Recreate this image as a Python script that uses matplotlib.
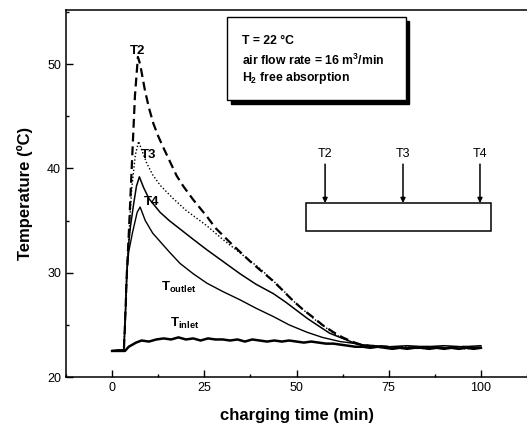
import matplotlib
matplotlib.use("Agg")
from matplotlib import pyplot as plt
from matplotlib import rcParams
from matplotlib.patches import Rectangle
from matplotlib.ticker import MultipleLocator

rcParams["font.family"] = ["Liberation Sans", "DejaVu Sans"]
rcParams["mathtext.fontset"] = "custom"
rcParams["mathtext.rm"] = "Liberation Sans"
rcParams["mathtext.bf"] = "Liberation Sans:bold"

# charging time (min) and temperature (C)
t2_t = [0, 3.2, 3.6, 4.0, 4.5, 5.0, 5.5, 6.2, 7.0, 7.6, 8.9, 10.0, 11.2, 12.5,
        13.9, 15.5, 17.5, 19.3, 22, 25.7, 28, 32, 35, 37.4, 40, 43.7, 46, 49.1,
        52, 54.6, 57, 60, 62.5, 65, 67.5, 70, 75, 80, 85, 90, 95, 100]
t2_y = [22.5, 22.6, 26.0, 30.0, 33.5, 37.5, 41.5, 47.0, 50.7, 50.0, 47.5, 45.8,
        44.3, 43.1, 42.0, 40.8, 39.3, 38.3, 37.0, 35.4, 34.3, 32.9, 31.9, 31.1,
        30.3, 29.2, 28.4, 27.3, 26.4, 25.7, 25.0, 24.3, 23.8, 23.4, 23.1, 23.0,
        22.9, 22.8, 22.9, 22.8, 22.9, 22.8]

t3_t = [0, 3.2, 3.6, 4.0, 4.5, 5.3, 6.3, 7.2, 8.0, 9.4, 11, 13, 16.6, 20, 25.7,
        30, 34.7, 40.1, 45, 50, 55, 60, 62.5, 65, 67.5, 70, 75, 80, 85, 90, 95, 100]
t3_y = [22.5, 22.6, 26.0, 30.0, 33.3, 38.0, 41.3, 42.6, 41.8, 40.5, 39.4, 38.4,
        37.1, 36.0, 34.5, 33.2, 31.9, 30.4, 28.8, 27.0, 25.5, 24.2, 23.7, 23.3,
        23.1, 22.9, 22.8, 22.9, 22.7, 22.8, 22.7, 22.8]

t4_t = [0, 3.2, 3.6, 4.0, 4.5, 5.0, 5.8, 6.6, 7.4, 8.5, 10, 13, 15.5, 18.4, 22,
        25.7, 30, 34.7, 39, 43.7, 47, 50, 53, 56.4, 59, 61.8, 64, 66, 68, 70, 75,
        80, 85, 90, 95, 100]
t4_y = [22.5, 22.6, 26.0, 30.0, 32.8, 34.5, 36.5, 38.3, 39.2, 38.2, 37.1, 35.8,
        35.0, 34.2, 33.2, 32.2, 31.1, 29.9, 28.9, 28.0, 27.2, 26.4, 25.6, 24.8,
        24.2, 23.8, 23.5, 23.2, 23.0, 23.0, 22.9, 23.0, 22.9, 23.0, 22.9, 23.0]

out_t = [0, 3.2, 3.6, 4.0, 4.5, 5.5, 6.8, 7.6, 9, 11, 13, 15.5, 18.4, 22, 25.7,
         30, 34.7, 39, 43.7, 48, 52.8, 57, 61.8, 64, 66, 68, 70, 75, 80, 85, 90,
         95, 100]
out_y = [22.5, 22.6, 26.0, 30.0, 32.0, 33.8, 35.8, 36.3, 35.0, 33.8, 33.0, 32.0,
         30.9, 29.9, 29.0, 28.2, 27.4, 26.6, 25.8, 25.0, 24.3, 23.8, 23.4, 23.3,
         23.2, 23.1, 23.0, 22.9, 22.8, 22.9, 22.8, 22.9, 22.8]

in_t = [0, 3.5, 4.5, 5.5, 6.5, 8, 10, 12, 14, 16, 18, 20, 22, 24, 26, 28, 30, 32,
        34, 36, 38, 40, 42, 44, 46, 48, 50, 52, 54, 56, 58, 60, 62, 64, 66, 68,
        70, 72, 74, 76, 78, 80, 82, 84, 86, 88, 90, 92, 94, 96, 98, 100]
in_y = [22.5, 22.5, 22.9, 23.1, 23.3, 23.5, 23.4, 23.6, 23.7, 23.6, 23.8, 23.6,
        23.7, 23.5, 23.7, 23.6, 23.6, 23.5, 23.6, 23.4, 23.6, 23.5, 23.4, 23.5,
        23.4, 23.5, 23.4, 23.3, 23.4, 23.3, 23.2, 23.2, 23.1, 23.0, 22.9, 22.9,
        22.8, 22.9, 22.8, 22.7, 22.8, 22.7, 22.8, 22.8, 22.7, 22.8, 22.7, 22.8,
        22.7, 22.8, 22.7, 22.8]

fig = plt.figure(figsize=(5.27, 4.3), dpi=100)
ax = fig.add_axes([66 / 527, 53 / 430, 461 / 527, 367 / 430])

ax.plot(t2_t, t2_y, color="black", linewidth=1.6, dashes=(4, 2.2))
ax.plot(t3_t, t3_y, color="black", linewidth=1.0, linestyle=(0, (1, 1.5)))
ax.plot(t4_t, t4_y, color="black", linewidth=1.1)
ax.plot(out_t, out_y, color="black", linewidth=1.0)
ax.plot(in_t, in_y, color="black", linewidth=1.8)

ax.set_xlim(-12.5, 112.5)
ax.set_ylim(20, 55.2)
ax.xaxis.set_major_locator(MultipleLocator(25))
ax.xaxis.set_minor_locator(MultipleLocator(12.5))
ax.set_yticks([20, 30, 40, 50])
ax.yaxis.set_minor_locator(MultipleLocator(5))
ax.tick_params(which="both", direction="in", labelsize=9, width=1.0)
ax.tick_params(which="major", length=5)
ax.tick_params(which="minor", length=2.5)
ax.spines["right"].set_visible(False)
for side in ["left", "bottom", "top"]:
    ax.spines[side].set_linewidth(1.1)

ax.set_xlabel("charging time (min)", fontsize=12, fontweight="bold", labelpad=10)
ax.set_ylabel("Temperature (ºC)", fontsize=12, fontweight="bold", labelpad=10)

# curve labels
ax.text(6.8, 51.3, "T2", fontsize=9.5, fontweight="bold", ha="center", va="center")
ax.text(9.8, 41.3, "T3", fontsize=9.5, fontweight="bold", ha="center", va="center")
ax.text(10.8, 36.8, "T4", fontsize=9.5, fontweight="bold", ha="center", va="center")
ax.text(13.2, 28.6, r"$\mathbf{T_{outlet}}$", fontsize=9.5, ha="left", va="center")
ax.text(15.6, 25.1, r"$\mathbf{T_{inlet}}$", fontsize=9.5, ha="left", va="center")

# conditions box with drop shadow
bx0, by0, bw, bh = 0.349, 0.755, 0.388, 0.226
ax.add_patch(Rectangle((bx0 + 0.008, by0 - 0.01), bw, bh, transform=ax.transAxes,
                       facecolor="black", edgecolor="black", clip_on=False, zorder=5))
ax.add_patch(Rectangle((bx0, by0), bw, bh, transform=ax.transAxes,
                       facecolor="white", edgecolor="black", linewidth=1.0,
                       clip_on=False, zorder=6))
ax.text(0.382, 0.915, "T = 22 °C", transform=ax.transAxes, fontsize=8.8,
        fontweight="bold", va="center", zorder=7)
ax.text(0.382, 0.862, r"air flow rate = 16 m$^\mathbf{3}$/min", transform=ax.transAxes,
        fontsize=8.8, fontweight="bold", va="center", zorder=7)
ax.text(0.382, 0.815, r"H$_\mathbf{2}$ free absorption", transform=ax.transAxes,
        fontsize=8.8, fontweight="bold", va="center", zorder=7)

# sketch of the bed with thermocouple positions
ax.add_patch(Rectangle((0.521, 0.398), 0.401, 0.076, transform=ax.transAxes,
                       facecolor="none", edgecolor="black", linewidth=1.1))
for xa, name in zip([0.562, 0.731, 0.898], ["T2", "T3", "T4"]):
    ax.annotate("", xy=(xa, 0.474), xytext=(xa, 0.58), xycoords="axes fraction",
                arrowprops=dict(arrowstyle="-|>", color="black", lw=1.1,
                                mutation_scale=7, shrinkA=0, shrinkB=0))
    ax.text(xa, 0.607, name, transform=ax.transAxes, fontsize=9, ha="center",
            va="center")

fig.savefig("out.png", dpi=100)
